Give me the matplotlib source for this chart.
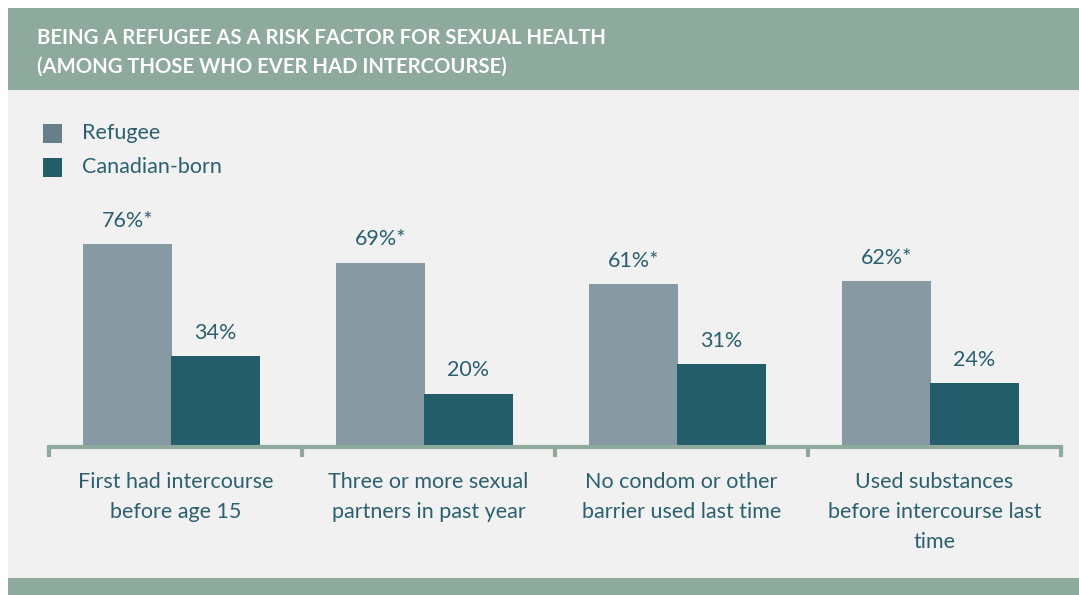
import matplotlib
matplotlib.use("Agg")
import matplotlib.pyplot as plt
from matplotlib.patches import Rectangle

categories = ["First had intercourse\nbefore age 15",
              "Three or more sexual\npartners in past year",
              "No condom or other\nbarrier used last time",
              "Used substances\nbefore intercourse last\ntime"]
refugee = [76, 69, 61, 62]
canadian = [34, 20, 31, 24]
refugee_labels = ["76%*", "69%*", "61%*", "62%*"]
canadian_labels = ["34%", "20%", "31%", "24%"]
series_names = ["Refugee", "Canadian-born"]
title_lines = ["BEING A REFUGEE AS A RISK FACTOR FOR SEXUAL HEALTH",
               "(AMONG THOSE WHO EVER HAD INTERCOURSE)"]

W, H = 1079, 595
BAND = "#8DAA9D"
BG = "#F1F1F1"
C_REF = "#879AA3"
C_REF_LEG = "#677F89"
C_CAN = "#235D6A"
TXT = "#2A6070"
FONT = "Lato"
FS = 15.5

plt.rcParams['font.family'] = [FONT, 'DejaVu Sans']

fig = plt.figure(figsize=(W / 100, H / 100), dpi=100)
fig.patch.set_facecolor("white")

def fx(x):
    return x / W

def fy(y):
    return 1 - y / H

def rect(x0, y0, x1, y1, color):
    fig.add_artist(Rectangle((fx(x0), fy(y1)), fx(x1) - fx(x0), fy(y0) - fy(y1),
                             transform=fig.transFigure, facecolor=color,
                             edgecolor="none", zorder=0))

rect(8, 8, W, 90, BAND)
rect(8, 90, W, 578, BG)
rect(8, 578, W, H, BAND)

fig.text(fx(37), fy(38), title_lines[0], color="white", fontsize=14.6,
         fontweight="bold", va="center", ha="left")
fig.text(fx(37), fy(67), title_lines[1], color="white", fontsize=14.6,
         fontweight="bold", va="center", ha="left")

# legend
for i, (name, col) in enumerate(zip(series_names, [C_REF_LEG, C_CAN])):
    yc = 133 + i * 34
    rect(43, yc - 9.5, 62, yc + 9.5, col)
    fig.text(fx(82), fy(yc), name, color=TXT, fontsize=FS, va="center", ha="left")

ax_left, ax_right, base = 49, 1061, 447
ax = fig.add_axes([fx(ax_left), fy(base), fx(ax_right) - fx(ax_left), 267 / H])
ax.set_facecolor("none")
x = list(range(len(categories)))
bw = 0.352
off_r, off_c = -0.19, 0.158
ax.bar([i + off_r for i in x], refugee, width=bw, color=C_REF, zorder=2)
ax.bar([i + off_c for i in x], canadian, width=bw, color=C_CAN, zorder=2)
for i in x:
    ax.text(i + off_r, refugee[i] + 5.0, refugee_labels[i], ha="center", va="bottom",
            color=TXT, fontsize=FS)
    ax.text(i + off_c, canadian[i] + 5.0, canadian_labels[i], ha="center", va="bottom",
            color=TXT, fontsize=FS)

ax.set_xlim(-0.5, len(categories) - 0.5)
ax.set_ylim(0, 100)
for s in ["top", "right", "left"]:
    ax.spines[s].set_visible(False)
ax.spines["bottom"].set_color(BAND)
ax.spines["bottom"].set_linewidth(3)
ax.set_yticks([])
ax.set_xticks(x)
ax.set_xticklabels(categories, color=TXT, fontsize=FS, linespacing=1.62)
ax.tick_params(axis="x", which="major", length=0, pad=18)
ax.set_xticks([i - 0.5 for i in range(len(categories) + 1)], minor=True)
ax.tick_params(axis="x", which="minor", length=7, width=3, color=BAND)

fig.savefig("out.png", dpi=100, facecolor=fig.get_facecolor())
